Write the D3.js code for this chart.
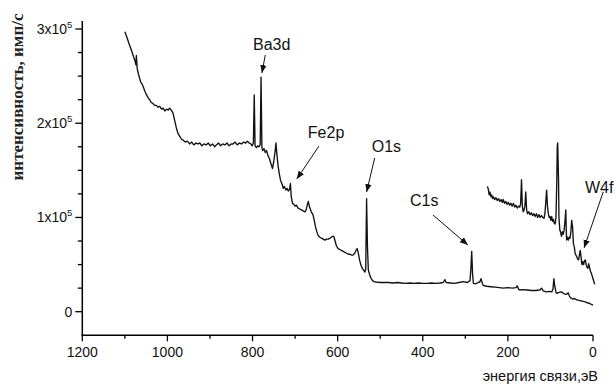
<!DOCTYPE html>
<html><head><meta charset="utf-8">
<script src="https://cdn.jsdelivr.net/npm/d3@7/dist/d3.min.js"></script>
<style>
html,body{margin:0;padding:0;background:#fff;}
svg{display:block;}
</style></head>
<body>
<svg id="chart" width="616" height="385"></svg>
<script>
// ---- data ----
const surveyEnergy = [1100,1095,1090,1085,1080,1076,1074,1073,1071,1068,1066,1063,1060,1057,1053,1049,1045,1042,1038,1034,1030,1026,1022,1018,1014,1010,1006,1002,998,995,991,987,983,979,975,971,967,963,958,953,948,943,938,933,928,924,919,914,909,904,899,894,889,885,880,875,870,865,860,855,850,846,841,836,831,826,821,816,812,808,804,801,798,796,794,791,788,785,782,780,778,776,773,770,767,764,760,756,753,750,747,745,743,740,737,734,731,728,725,722,719,716,713,711,709,706,703,700,697,693,689,685,681,677,674,671,669,666,662,658,655,652,649,646,642,638,634,630,626,622,618,615,612,609,606,603,599,595,591,587,583,579,575,571,567,564,560,557,554,551,548,545,542,539,536,534,532,530,528,526,524,521,518,515,510,500,490,480,470,460,450,440,430,420,410,400,390,380,370,360,352,348,345,335,325,315,305,295,289,287,285,283,281,276,270,266,263,260,258,250,240,230,220,211,200,190,181,178,175,172,165,155,145,135,125,121,117,109,103,97,94,92,90,87,85,80,74,68,62,58,55,52,48,44,38,33,28,23,18,14,9,5,0];
const surveyCounts = [297000,291000,284000,278000,271000,266000,262000,272000,258000,252000,249000,244000,242000,239000,234000,230000,227000,225000,222000,221000,219000,219000,217000,218000,215000,216000,213000,215000,214000,216000,214000,211000,203000,195000,189000,186000,183000,182000,180000,181000,178000,180000,177000,179000,178000,179000,176000,178000,177000,179000,176000,178000,175000,177000,179000,176000,178000,177000,179000,176000,178000,178000,180000,177000,179000,178000,180000,179000,181000,179000,178000,176000,179000,230000,176000,174000,176000,175000,177000,249000,174000,171000,173000,169000,171000,166000,162000,156000,152000,160000,170000,179000,168000,155000,146000,139000,136000,131000,133000,129000,131000,128000,130000,136000,122000,115000,114000,112000,113000,110000,109000,108000,107000,106000,108000,114000,117000,111000,106000,103000,97000,90000,85000,81000,79000,78000,77000,76000,77000,77000,78000,79000,80000,80000,75000,70000,67000,66000,65000,64000,63000,62000,61000,61000,60000,60000,62000,65000,67000,61000,54000,49000,46000,44000,42000,45000,120000,70000,45000,41000,38000,35000,33000,32000,31500,31000,31000,31000,30500,31000,30500,30000,30500,30000,30500,30000,30000,30500,30000,30500,31000,34000,31000,30500,30000,31000,32000,31000,33000,45000,64000,40000,30000,29500,31000,31500,35000,30000,28000,27000,26500,26000,25500,25000,25500,25000,25500,27500,24000,23000,23500,23000,22500,22500,23000,25000,22000,21000,21500,21000,24000,35000,28000,20500,19500,20500,21000,19000,18500,20000,16000,14500,13500,14000,12500,12000,11500,11000,10500,9500,9000,8000,7000];

const insetEnergy = [248,246,244,242,240,238,236,234,231,228,225,222,219,216,213,211,208,205,202,199,196,193,190,187,184,181,178,175,172,170,168,166,164,162,160,158,156,154,151,148,145,142,139,136,133,130,127,124,121,118,115,113,111,109,107,105,103,101,99,97,95,93,91,89,87,85,84,83,81,80,78,76,74,72,70,68,66,64,63,62,60,58,56,54,52,50,48,46,44,42,40,38,36,34,32,30,28,26,24,22,20,18,16,14,12,10,8,6,4,2,0,-4];
const insetCounts = [133000,130000,124000,127000,122000,124000,120000,122000,119000,121000,118000,120000,117000,119000,116000,119000,115000,117000,114000,116000,113000,115000,112000,115000,111000,113000,110000,112000,111000,115000,140000,112000,106000,108000,112000,127000,108000,104000,106000,103000,105000,102000,104000,101000,104000,100000,103000,100000,102000,100000,99000,104000,116000,129000,112000,104000,100000,101000,97000,101000,96000,98000,94000,93000,100000,140000,175000,179000,140000,100000,87000,84000,80000,85000,82000,86000,95000,108000,90000,76000,79000,76000,79000,78000,85000,97000,90000,72000,69000,62000,60000,58000,56000,55000,60000,65000,58000,50000,53000,50000,54000,55000,50000,47000,46000,51000,47000,43000,41000,38000,35000,29000];

const xTickValues = [1200,1000,800,600,400,200,0];
const yTickValues = [0,100000,200000,300000];
const yTickLabels = ["0","1x10|5","2x10|5","3x10|5"];

const peakLabels = ["Ba3d","Fe2p","O1s","C1s","W4f"];
const labelEnergy = [799,670,520,430,-48];
const labelCounts = [277700,184300,169500,112200,126000];
const arrowFromE = [770,644,513,376,-24];
const arrowFromI = [272400,175700,163100,102600,127100];
const arrowToE   = [778,696,532,294,21];
const arrowToI   = [253300,140800,127000,70800,67700];

// ---- layout ----
const svg = d3.select("#chart");
const x = d3.scaleLinear().domain([1200,0]).range([82.3,593]);
const y = d3.scaleLinear().domain([0,300000]).range([311.7,29]);
const yMin = -25000, yMax = 308500;

const font = "'Liberation Sans', Arial, sans-serif";

// markers
svg.append("defs").append("marker")
  .attr("id","ah").attr("viewBox","0 0 10 10").attr("refX",10).attr("refY",5)
  .attr("markerWidth",8).attr("markerHeight",8).attr("markerUnits","userSpaceOnUse")
  .attr("orient","auto")
  .append("path").attr("d","M0,1 L10,5 L0,9 Z").attr("fill","#111");

// lines
const line = d3.line().x(d=>x(d[0])).y(d=>y(d[1]));
svg.append("path").datum(d3.zip(surveyEnergy, surveyCounts))
  .attr("d",line).attr("fill","none").attr("stroke","#111").attr("stroke-width",1.35).attr("stroke-linejoin","round");
svg.append("path").datum(d3.zip(insetEnergy, insetCounts))
  .attr("d",line).attr("fill","none").attr("stroke","#111").attr("stroke-width",1.35).attr("stroke-linejoin","round");

// axes
const axG = svg.append("g").attr("stroke","#000").attr("fill","none");
axG.append("line").attr("x1",x(1200)).attr("x2",x(1200)).attr("y1",y(yMin)).attr("y2",y(yMax)).attr("stroke-width",1.5);
axG.append("line").attr("x1",x(1200)-0.75).attr("x2",x(0)).attr("y1",y(yMin)).attr("y2",y(yMin)).attr("stroke-width",1.5);

// x ticks
const xMinor = d3.range(1100,0,-200);
axG.selectAll(".xt").data(xTickValues).join("line")
  .attr("x1",d=>x(d)).attr("x2",d=>x(d)).attr("y1",y(yMin)).attr("y2",y(yMin)+6).attr("stroke-width",1.3);
axG.selectAll(".xm").data(xMinor).join("line")
  .attr("x1",d=>x(d)).attr("x2",d=>x(d)).attr("y1",y(yMin)).attr("y2",y(yMin)+3.5).attr("stroke-width",1.3);
svg.selectAll(".xl").data(xTickValues).join("text")
  .attr("x",d=>x(d)).attr("y",y(yMin)+22).attr("text-anchor","middle")
  .attr("font-family",font).attr("font-size",14).attr("fill","#111").text(d=>d);

// y ticks
const yMinor = d3.range(25000,300000,25000).filter(v=>v%100000!==0);
axG.selectAll(".yt").data(yTickValues).join("line")
  .attr("x1",x(1200)-7).attr("x2",x(1200)).attr("y1",d=>y(d)).attr("y2",d=>y(d)).attr("stroke-width",1.3);
axG.selectAll(".ym").data(yMinor).join("line")
  .attr("x1",x(1200)-4.5).attr("x2",x(1200)).attr("y1",d=>y(d)).attr("y2",d=>y(d)).attr("stroke-width",1.3);
yTickValues.forEach((v,i)=>{
  const parts = yTickLabels[i].split("|");
  const t = svg.append("text").attr("x",x(1200)-10).attr("y",y(v)+5)
    .attr("text-anchor","end").attr("font-family",font).attr("font-size",14).attr("fill","#111");
  t.append("tspan").text(parts[0]);
  if(parts[1]) t.append("tspan").attr("dy",-6).attr("font-size",9.5).text(parts[1]);
});

// axis titles
svg.append("text").attr("transform","translate(23,97) rotate(-90)")
  .attr("text-anchor","middle").attr("font-family","'Liberation Serif','Times New Roman',serif")
  .attr("font-weight","bold").attr("font-size",17).attr("fill","#222")
  .text("интенсивность, имп/с");
svg.append("text").attr("x",598).attr("y",381).attr("text-anchor","end")
  .attr("font-family",font).attr("font-size",14.5).attr("fill","#111")
  .text("энергия связи,эВ");

// annotations
peakLabels.forEach((lab,i)=>{
  svg.append("text").attr("x",x(labelEnergy[i])).attr("y",y(labelCounts[i]))
    .attr("text-anchor", i===4 ? "end" : "start")
    .attr("font-family",font).attr("font-size",16).attr("fill","#111").text(lab);
  svg.append("line")
    .attr("x1",x(arrowFromE[i])).attr("y1",y(arrowFromI[i]))
    .attr("x2",x(arrowToE[i])).attr("y2",y(arrowToI[i]))
    .attr("stroke","#111").attr("stroke-width",1).attr("marker-end","url(#ah)");
});
</script>
</body></html>
